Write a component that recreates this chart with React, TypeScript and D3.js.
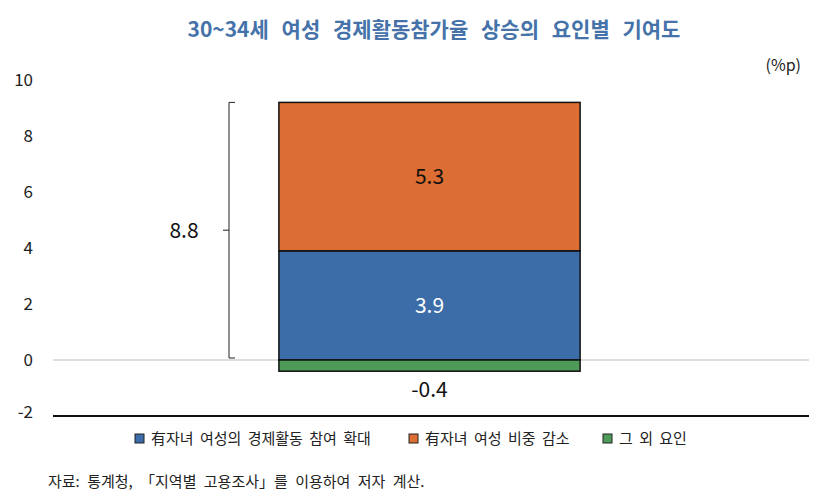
import React from 'react';
import * as d3 from 'd3';

const categories = ['30~34세'];
const seriesNames = ['有자녀 여성의 경제활동 참여 확대', '有자녀 여성 비중 감소', '그 외 요인'];
const seriesColors = ['#3D6DA8', '#DC6D33', '#4E9A58'];
const seriesValues = [3.9, 5.3, -0.4];
const totalLabel = 8.8;
const yTicks = [-2, 0, 2, 4, 6, 8, 10];

const FONT = '"Noto Sans CJK KR", "Noto Sans", sans-serif';

export default function App() {
  const width = 828;
  const height = 502;
  const margin = { left: 53, right: 22 };

  const x = d3.scaleBand<string>()
    .domain(categories)
    .range([margin.left, width - margin.right])
    .paddingInner(0.6)
    .paddingOuter(0.3);

  const y = d3.scaleLinear().domain([-2, 10]).range([416, 80]);

  // stack positives upward, negatives downward
  let pos = 0;
  let neg = 0;
  const segs = seriesValues.map((v, i) => {
    let y0, y1;
    if (v >= 0) { y0 = pos; y1 = pos + v; pos = y1; }
    else { y0 = neg + v; y1 = neg; neg = y0; }
    return { v, y0, y1, color: seriesColors[i], name: seriesNames[i] };
  });

  const bx = x(categories[0])!;
  const bw = x.bandwidth();
  const bc = bx + bw / 2;

  // brace around positive part
  const braceX = 229;
  const braceTop = y(pos);
  const braceBot = y(0) - 2;
  const braceMid = (braceTop + braceBot) / 2;

  const legendX = [139, 413, 607];

  return (
    <svg width={width} height={height} viewBox={`0 0 ${width} ${height}`}
      style={{ position: 'absolute', left: 0, top: 0, background: '#fff', fontFamily: FONT }}>
      <text x={434} y={37} textAnchor="middle" fill="#4472A9" fontSize={21} fontWeight={700} wordSpacing={8}>
        30~34세 여성 경제활동참가율 상승의 요인별 기여도
      </text>
      <text x={801} y={71} textAnchor="end" fill="#222" fontSize={16}>(%p)</text>

      {yTicks.map(t => (
        <text key={t} x={33} y={y(t) + (t === -2 ? -4 : 0)} dy="0.35em" textAnchor="end" fill="#222" fontSize={17}>{t}</text>
      ))}

      <line x1={margin.left} x2={width - margin.right + 3} y1={y(0)} y2={y(0)} stroke="#bdbdbd" strokeWidth={1.2} />

      {segs.map((s, i) => (
        <rect key={i} x={bx} width={bw} y={y(s.y1)} height={y(s.y0) - y(s.y1)}
          fill={s.color} stroke="#111" strokeWidth={1.5} />
      ))}

      <text x={bc} y={(y(segs[1].y0) + y(segs[1].y1)) / 2} dy="0.35em" textAnchor="middle" fill="#111" fontSize={21}>{segs[1].v.toFixed(1)}</text>
      <text x={bc} y={(y(segs[0].y0) + y(segs[0].y1)) / 2} dy="0.35em" textAnchor="middle" fill="#fff" fontSize={21}>{segs[0].v.toFixed(1)}</text>
      <text x={bc} y={y(segs[2].y0) + 18} dy="0.35em" textAnchor="middle" fill="#111" fontSize={21}>{segs[2].v.toFixed(1)}</text>

      <path d={`M${braceX + 6},${braceTop} H${braceX} V${braceBot} H${braceX + 6} M${braceX},${braceMid} H${braceX - 6}`}
        fill="none" stroke="#222" strokeWidth={1} />
      <text x={184} y={braceMid} dy="0.35em" textAnchor="middle" fill="#111" fontSize={21}>{totalLabel.toFixed(1)}</text>

      <line x1={margin.left} x2={width - margin.right + 3} y1={y(-2)} y2={y(-2)} stroke="#111" strokeWidth={2.2} />

      {seriesNames.map((n, i) => (
        <g key={n} transform={`translate(${legendX[i]},439)`}>
          <rect x={-4} y={-5} width={9} height={9} fill={seriesColors[i]} stroke="#222" strokeWidth={1} />
          <text x={12} y={0} dy="0.35em" fill="#222" fontSize={15} wordSpacing={3}>{n}</text>
        </g>
      ))}

      <text x={48} y={482} dy="0.35em" fill="#222" fontSize={15} wordSpacing={4}>자료: 통계청, 「지역별 고용조사」를 이용하여 저자 계산.</text>
    </svg>
  );
}
